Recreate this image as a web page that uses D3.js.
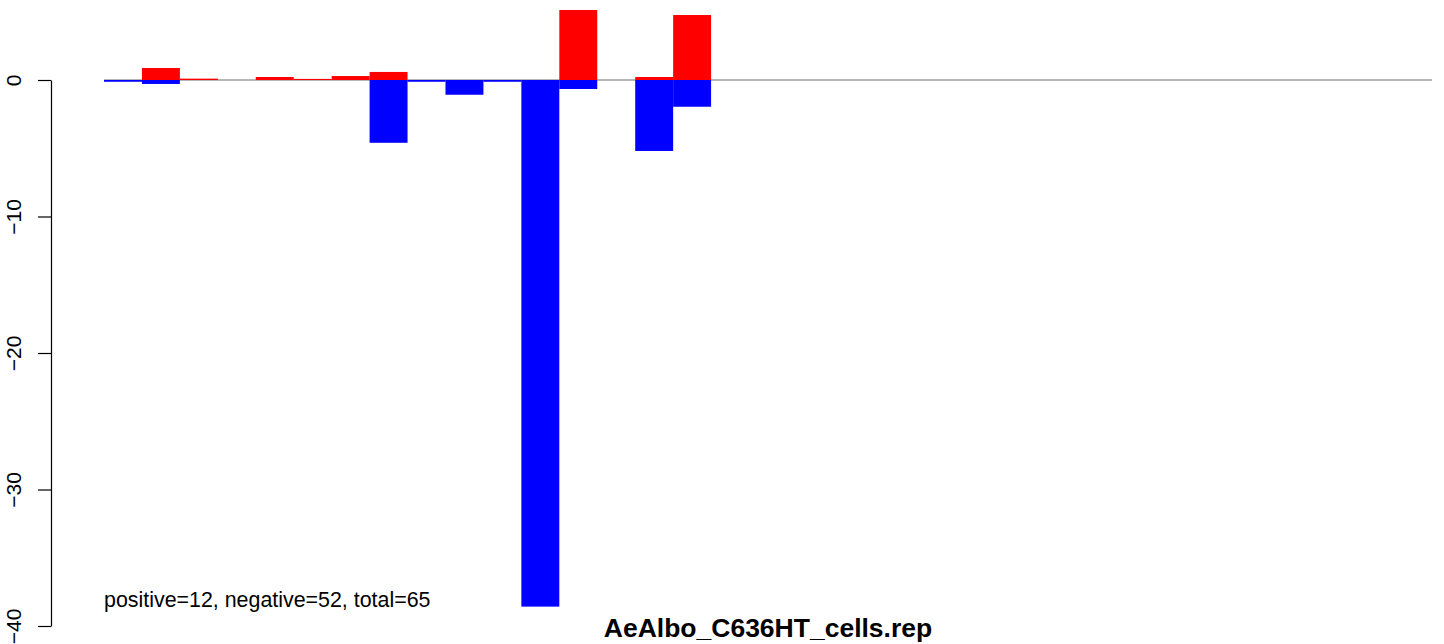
<!DOCTYPE html>
<html>
<head>
<meta charset="utf-8">
<script src="https://cdn.jsdelivr.net/npm/d3@7"></script>
<style>
  html, body { margin: 0; padding: 0; background: #fff; }
  svg { display: block; }
  text { font-family: "Liberation Sans", Arial, Helvetica, sans-serif; }
</style>
</head>
<body>
<svg id="chart" width="1444" height="644"></svg>
<script>
// ---- data ----
const categories = ["1","2","3","4","5","6","7","8","9","10","11","12","13","14","15","16","17","18",
  "19","20","21","22","23","24","25","26","27","28","29","30","31","32","33","34","35"];
const positiveValues = [0, 0.88, 0.1, 0, 0.22, 0.08, 0.29, 0.59, 0, 0, 0, 0, 5.13, 0, 0.22, 4.76,
  0, 0, 0, 0, 0, 0, 0, 0, 0, 0, 0, 0, 0, 0, 0, 0, 0, 0, 0];
const negativeValues = [-0.13, -0.29, 0, 0, 0, 0, 0, -4.6, -0.13, -1.08, -0.13, -38.58, -0.66, 0, -5.2, -1.96,
  0, 0, 0, 0, 0, 0, 0, 0, 0, 0, 0, 0, 0, 0, 0, 0, 0, 0, 0];
const yTicks = [0, -10, -20, -30, -40];
const title = "AeAlbo_C636HT_cells.rep";
const note = "positive=12, negative=52, total=65";

// ---- layout ----
const svg = d3.select("#chart");
const x = d3.scaleBand().domain(categories).range([104, 1432]).padding(0);
const y = d3.scaleLinear().domain([-40, 0]).range([626, 80]);

svg.append("rect").attr("width", 1444).attr("height", 644).attr("fill", "#fff");

// zero line
svg.append("line")
  .attr("x1", x.range()[0]).attr("x2", x.range()[1])
  .attr("y1", y(0)).attr("y2", y(0))
  .attr("stroke", "#6e6e6e").attr("stroke-width", 1.2);

// negative (blue) bars
svg.append("g").selectAll("rect")
  .data(categories.map((c, i) => ({c, v: negativeValues[i]})).filter(d => d.v !== 0))
  .join("rect")
  .attr("x", d => x(d.c))
  .attr("width", x.bandwidth())
  .attr("y", d => y(0))
  .attr("height", d => y(d.v) - y(0))
  .attr("fill", "#0000ff");

// positive (red) bars
svg.append("g").selectAll("rect")
  .data(categories.map((c, i) => ({c, v: positiveValues[i]})).filter(d => d.v !== 0))
  .join("rect")
  .attr("x", d => x(d.c))
  .attr("width", x.bandwidth())
  .attr("y", d => y(d.v))
  .attr("height", d => y(0) - y(d.v))
  .attr("fill", "#ff0000");

// y axis
const axis = d3.axisLeft(y).tickValues(yTicks).tickSize(13).tickSizeOuter(0)
  .tickFormat(d => d3.format("d")(d).replace("-", "\u2212"));
const gAxis = svg.append("g").attr("transform", "translate(51,0)").call(axis);
gAxis.select(".domain").attr("stroke", "#000").attr("stroke-width", 1.2);
gAxis.selectAll(".tick line").attr("stroke", "#000").attr("stroke-width", 1.2);
gAxis.selectAll(".tick text")
  .attr("font-size", 21)
  .attr("fill", "#000")
  .attr("x", null).attr("dy", null)
  .attr("text-anchor", "middle")
  .attr("transform", "translate(-30,0) rotate(-90)");

// annotation
svg.append("text")
  .attr("x", 104).attr("y", 607)
  .attr("font-size", 21.4)
  .attr("fill", "#000")
  .text(note);

// title at the bottom edge
svg.append("text")
  .attr("x", 768).attr("y", 637)
  .attr("text-anchor", "middle")
  .attr("font-size", 26.5)
  .attr("font-weight", "bold")
  .attr("fill", "#000")
  .text(title);
</script>
</body>
</html>
